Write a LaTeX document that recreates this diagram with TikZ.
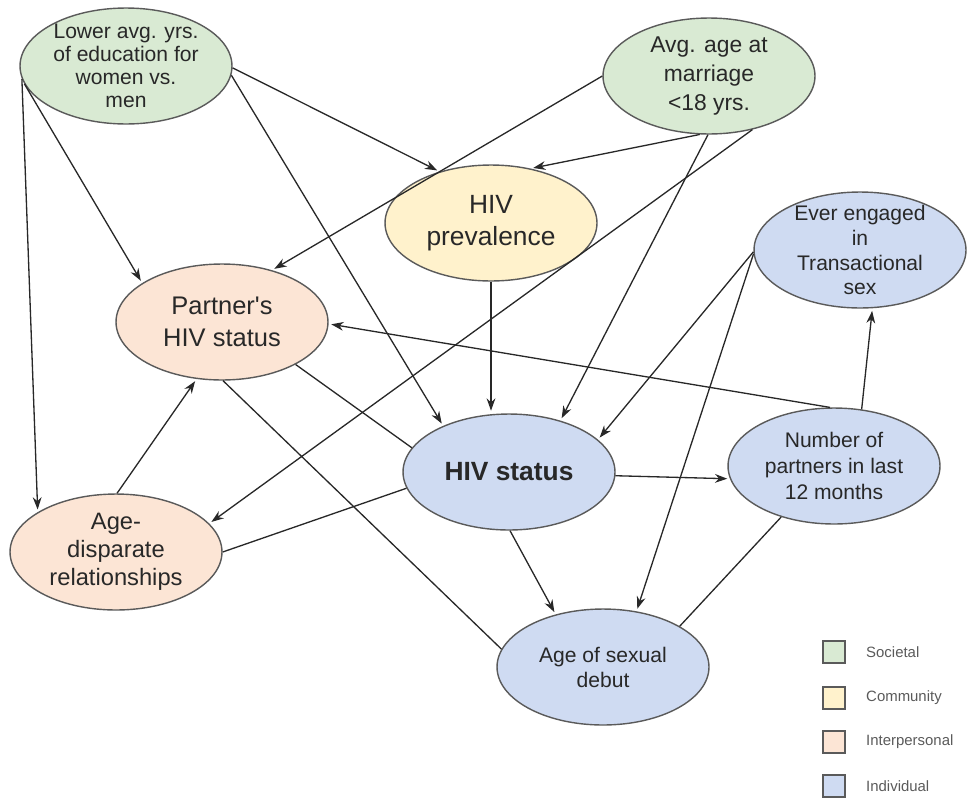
\documentclass[tikz,border=0pt]{standalone}
\usepackage{fontspec}
\setmainfont{Liberation Sans}
\usetikzlibrary{shapes.geometric,arrows.meta}
\definecolor{societal}{RGB}{217,234,211}
\definecolor{community}{RGB}{255,242,204}
\definecolor{interpersonal}{RGB}{252,229,213}
\definecolor{individual}{RGB}{207,219,242}
\definecolor{rimgray}{RGB}{90,90,90}
\definecolor{inkgray}{RGB}{40,40,40}

\begin{document}
\begin{tikzpicture}[x=0.02cm,y=-0.02cm,
    factor/.style={ellipse,draw=rimgray,line width=0.8pt,minimum width=4.24cm,
      minimum height=2.32cm,inner sep=0pt,align=center,text=inkgray},
    link/.style={draw=inkgray,line width=0.75pt},
    cause/.style={link,shorten >=1.5pt,-{Stealth[length=7pt,width=5pt]}},
    keybox/.style={draw=rimgray,line width=0.8pt,minimum size=0.44cm,inner sep=0pt},
    keytext/.style={font=\fontsize{8.5}{10}\selectfont,text=rimgray,anchor=west}]
  \useasboundingbox (0,0) rectangle (972,805);
  % Societal
  \node[factor,fill=societal,inner ysep=-2pt,font=\fontsize{12}{13}\selectfont] (edu) at (126,66)
    {Lower avg. yrs.\\of education for\\women vs.\\men};
  \node[factor,fill=societal,font=\fontsize{13}{16.4}\selectfont] (mar) at (709,76)
    {Avg. age at\\marriage\\<18 yrs.};
  % Community
  \node[factor,fill=community,font=\fontsize{15}{18.5}\selectfont] (prev) at (491,223)
    {HIV\\prevalence};
  % Interpersonal
  \node[factor,fill=interpersonal,font=\fontsize{14.5}{18}\selectfont] (partner) at (222,322)
    {Partner\textquotesingle s\\HIV status};
  \node[factor,fill=interpersonal,font=\fontsize{13.5}{16}\selectfont] (agedis) at (116,552)
    {Age-\\disparate\\relationships};
  % Individual
  \node[factor,fill=individual,inner ysep=-4pt,font=\fontsize{12}{14.2}\selectfont] (trans) at (860,250)
    {Ever engaged\\in\\Transactional\\sex};
  \node[factor,fill=individual,font=\fontsize{15}{18}\selectfont\bfseries] (hiv) at (509,472)
    {HIV status};
  \node[factor,fill=individual,font=\fontsize{12}{14.7}\selectfont] (numb) at (834,466)
    {Number of\\partners in last\\12 months};
  \node[factor,fill=individual,font=\fontsize{12}{14.2}\selectfont] (debut) at (603,667)
    {Age of sexual\\debut};

  % Pathways
  \draw[cause] (edu.-1) -- (prev.135);
  \draw[cause] (edu.-5) -- (hiv.145);
  \draw[cause] (edu.190) -- (partner.154);
  \draw[cause] (edu.187) -- (agedis.153);
  \draw[cause] (mar.-99) -- (prev.54);
  \draw[cause] (mar.180) -- (partner.46);
  \draw[cause] (mar.-91) -- (hiv.45);
  \draw[cause] (mar.-51) -- (agedis.17);
  \draw[cause] (prev.south) -- (prev.south |- hiv.north);
  \draw[cause] (numb.64) -- (trans.-78);
  \draw[cause] (numb.94) -- (partner.-1);
  \draw[cause] (hiv.-2) -- (numb.187);
  \draw[cause] (hiv.-89) -- (debut.132);
  \draw[cause] (agedis.89) -- (partner.-114);
  \draw[cause] (trans.181) -- (hiv.20);
  \draw[cause] (trans.182) -- (debut.59);
  \draw[link] (partner.-30) -- (hiv.166);
  \draw[link] (partner.-89) -- (debut.170);
  \draw[link] (agedis.0) -- (hiv.189);
  \draw[link] (numb.224) -- (debut.28);

  % Legend
  \foreach \lev/\y/\lbl in {societal/652/Societal,community/698/Community,
      interpersonal/742/Interpersonal,individual/786/Individual} {
    \node[keybox,fill=\lev] (key-\lev) at (834,\y) {};
    \node[keytext] (lab-\lev) at (860,\y) {\lbl};
  }
\end{tikzpicture}
\end{document}
